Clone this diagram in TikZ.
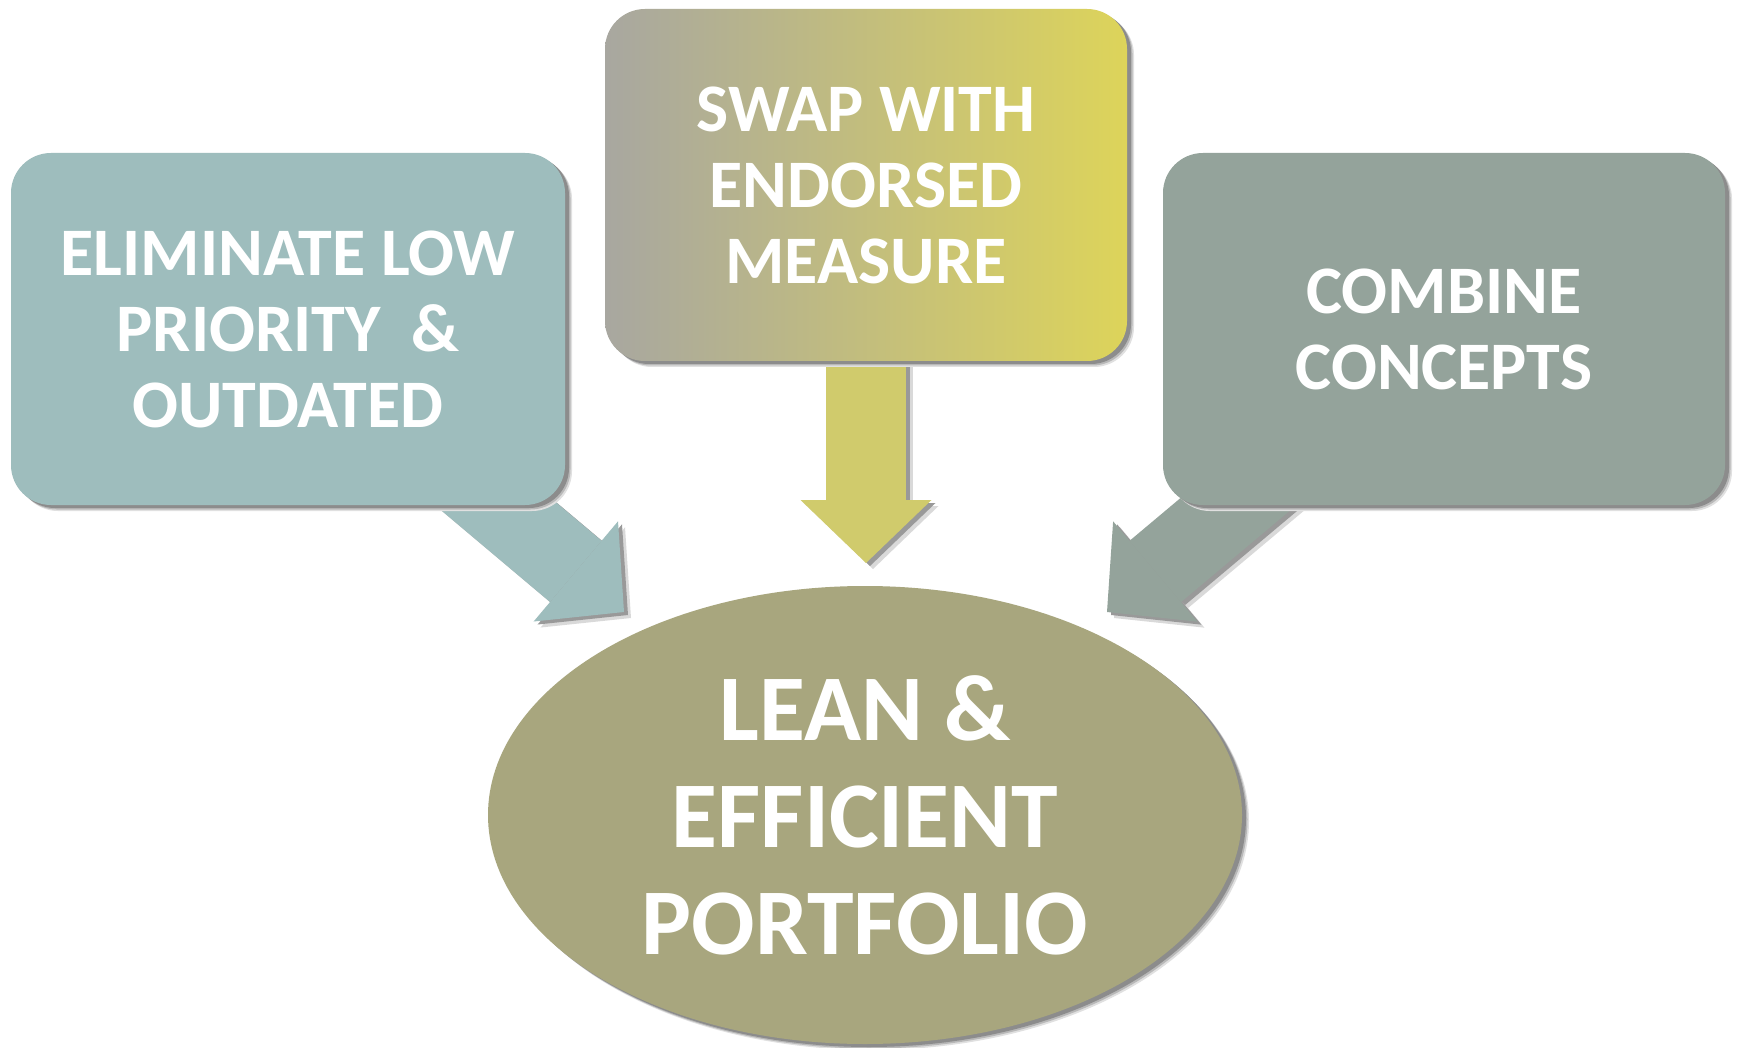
\documentclass[tikz,border=0pt]{standalone}
\usepackage{fontspec}
\setmainfont{Carlito}
\usetikzlibrary{arrows.meta,shapes.geometric,shadows}
\definecolor{leftc}{RGB}{158,189,189}
\definecolor{rightc}{RGB}{148,163,155}
\definecolor{ellc}{RGB}{168,166,126}
\definecolor{midarrow}{RGB}{208,203,108}
\definecolor{gradl}{RGB}{168,167,160}
\definecolor{gradr}{RGB}{221,212,90}
\definecolor{bggray}{RGB}{228,228,228}
\pgfdeclareradialshading{bgrad}{\pgfpoint{0bp}{0bp}}{color(0bp)=(white); color(34bp)=(white); color(50bp)=(bggray)}
\pgfdeclarelayer{bglayer}
\pgfdeclarelayer{arrowlayer}
\pgfsetlayers{bglayer,arrowlayer,main}
\begin{document}
\begin{tikzpicture}[x=1pt,y=-1pt,
  softshadow/.style={
    general shadow={shadow xshift=7pt, shadow yshift=-6pt, fill=black!12},
    general shadow={shadow xshift=5.5pt, shadow yshift=-4.5pt, fill=black!28},
    general shadow={shadow xshift=4pt, shadow yshift=-3pt, fill=black!45}},
  boxtext/.style={text=white, font=\fontsize{68pt}{76pt}\selectfont\bfseries, align=center},
  box/.style={boxtext, rectangle, rounded corners=40pt, minimum height=352pt, inner sep=0pt, softshadow},
  goalnode/.style={ellipse, fill=ellc, minimum width=754pt, minimum height=458pt, inner sep=0pt,
    text=white, font=\fontsize{94pt}{107pt}\selectfont\bfseries, align=center, softshadow},
  conn/.style={line width=80pt, -{Triangle[width=131pt,length=63pt,line width=0pt]}},
  connshadowA/.style={conn, draw=black!15, transform canvas={shift={(7pt,-6pt)}}},
  connshadowB/.style={conn, draw=black!40, transform canvas={shift={(4pt,-3pt)}}}
]
\useasboundingbox (0,0) rectangle (1737,1048);
\begin{pgfonlayer}{bglayer}
  \begin{scope}
    \clip (0,0) rectangle (1737,1048);
    \shade[shading=bgrad] (650,480) circle (1250);
  \end{scope}
\end{pgfonlayer}

\node[box, fill=leftc, minimum width=554pt] (lbox) at (288,329) {ELIMINATE LOW\\PRIORITY \ \&\\OUTDATED};
\node[box, left color=gradl, right color=gradr, minimum width=522pt] (mbox) at (866,185) {SWAP WITH\\ENDORSED\\MEASURE};
\node[box, fill=rightc, minimum width=562pt] (rbox) at (1444,329) {COMBINE\\CONCEPTS};
\node[goalnode] (goal) at (865,815) {LEAN \&\\EFFICIENT\\PORTFOLIO};

\coordinate (ltip) at (624,612);
\coordinate (mtip) at (866,563);
\coordinate (rtip) at (1107,612);

\begin{pgfonlayer}{arrowlayer}
  \draw[connshadowA] (lbox.center) -- (ltip);
  \draw[connshadowA] (mbox.center) -- (mtip);
  \draw[connshadowA] (rbox.center) -- (rtip);
  \draw[connshadowB] (lbox.center) -- (ltip);
  \draw[connshadowB] (mbox.center) -- (mtip);
  \draw[connshadowB] (rbox.center) -- (rtip);
  \draw[conn, draw=leftc] (lbox.center) -- (ltip);
  \draw[conn, draw=midarrow] (mbox.center) -- (mtip);
  \draw[conn, draw=rightc] (rbox.center) -- (rtip);
\end{pgfonlayer}
\end{tikzpicture}
\end{document}
